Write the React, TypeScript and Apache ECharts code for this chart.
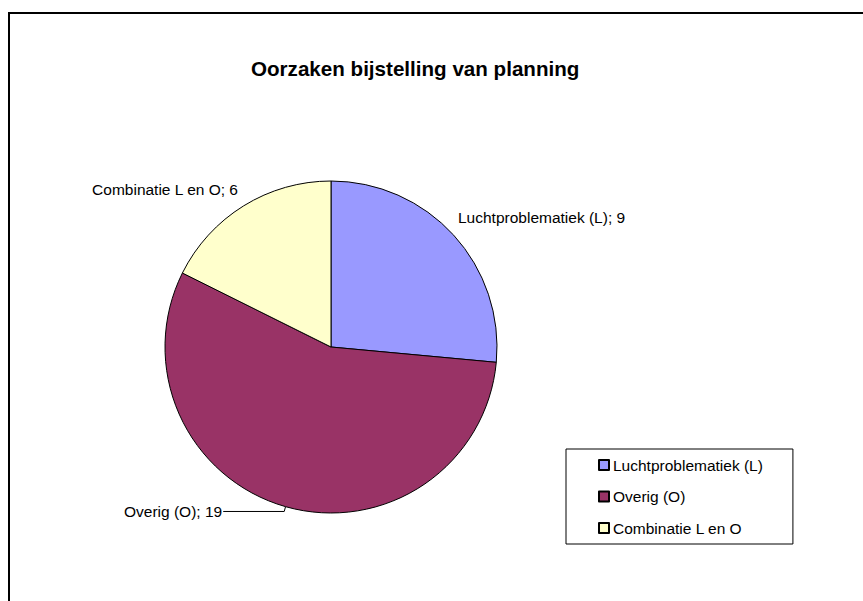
import React, { useEffect, useRef } from "react";
import * as echarts from "echarts";

const titleText = "Oorzaken bijstelling van planning";
const categories = ["Luchtproblematiek (L)", "Overig (O)", "Combinatie L en O"];
const values = [9, 19, 6];
const colors = ["#9999FF", "#993366", "#FFFFCC"];

const FONT = "'Liberation Sans', Arial, Helvetica, sans-serif";

export default function App() {
  const ref = useRef<HTMLDivElement>(null);
  useEffect(() => {
    if (!ref.current) return;
    const chart = echarts.init(ref.current, undefined, { renderer: "svg" });
    const option = {
      animation: false,
      backgroundColor: "#ffffff",
      title: {
        text: titleText,
        left: 251,
        top: 58,
        padding: 0,
        textStyle: {
          fontFamily: FONT,
          fontSize: 20.6,
          fontWeight: "bold",
          color: "#000",
        },
      },
      legend: {
        orient: "vertical",
        left: 566,
        top: 449,
        padding: [8, 30, 8, 32],
        itemWidth: 10,
        itemHeight: 10,
        itemGap: 15.5,
        icon: "rect",
        borderColor: "#000",
        borderWidth: 1,
        selectedMode: false,
        data: categories,
        textStyle: {
          fontFamily: FONT,
          fontSize: 15.5,
          lineHeight: 16,
          color: "#000",
          padding: [0, 0, 0, -1],
        },
      },
      graphic: [
        {
          type: "rect",
          silent: true,
          shape: { x: 9, y: 13, width: 1200, height: 1200 },
          style: { fill: "none", stroke: "#000", lineWidth: 2 },
        },
      ],
      series: [
        {
          type: "pie",
          center: [331, 347],
          radius: 166,
          startAngle: 90,
          clockwise: true,
          avoidLabelOverlap: false,
          itemStyle: { borderColor: "#000", borderWidth: 1 },
          emphasis: { disabled: true },
          label: {
            show: true,
            position: "outside",
            formatter: "{b}; {c}",
            fontFamily: FONT,
            fontSize: 15.5,
            color: "#000",
            distanceToLabelLine: 1,
          },
          labelLine: {
            show: true,
            length: 5,
            length2: 61,
            lineStyle: { color: "#000", width: 1 },
          },
          labelLayout: (params: any) => {
            if (params.dataIndex === 0) {
              return { x: 458, y: 217, align: "left", verticalAlign: "middle" };
            }
            if (params.dataIndex === 2) {
              return { x: 238, y: 189, align: "right", verticalAlign: "middle" };
            }
            return {};
          },
          data: categories.map((name, i) => ({
            name,
            value: values[i],
            itemStyle: { color: colors[i] },
            labelLine: { show: i === 1 },
          })),
        },
      ],
    };
    chart.setOption(option as any);
    return () => chart.dispose();
  }, []);
  return (
    <div
      style={{ position: "absolute", left: 0, top: 0, width: 863, height: 601, background: "#fff" }}
    >
      <div ref={ref} style={{ width: 863, height: 601 }} />
    </div>
  );
}
